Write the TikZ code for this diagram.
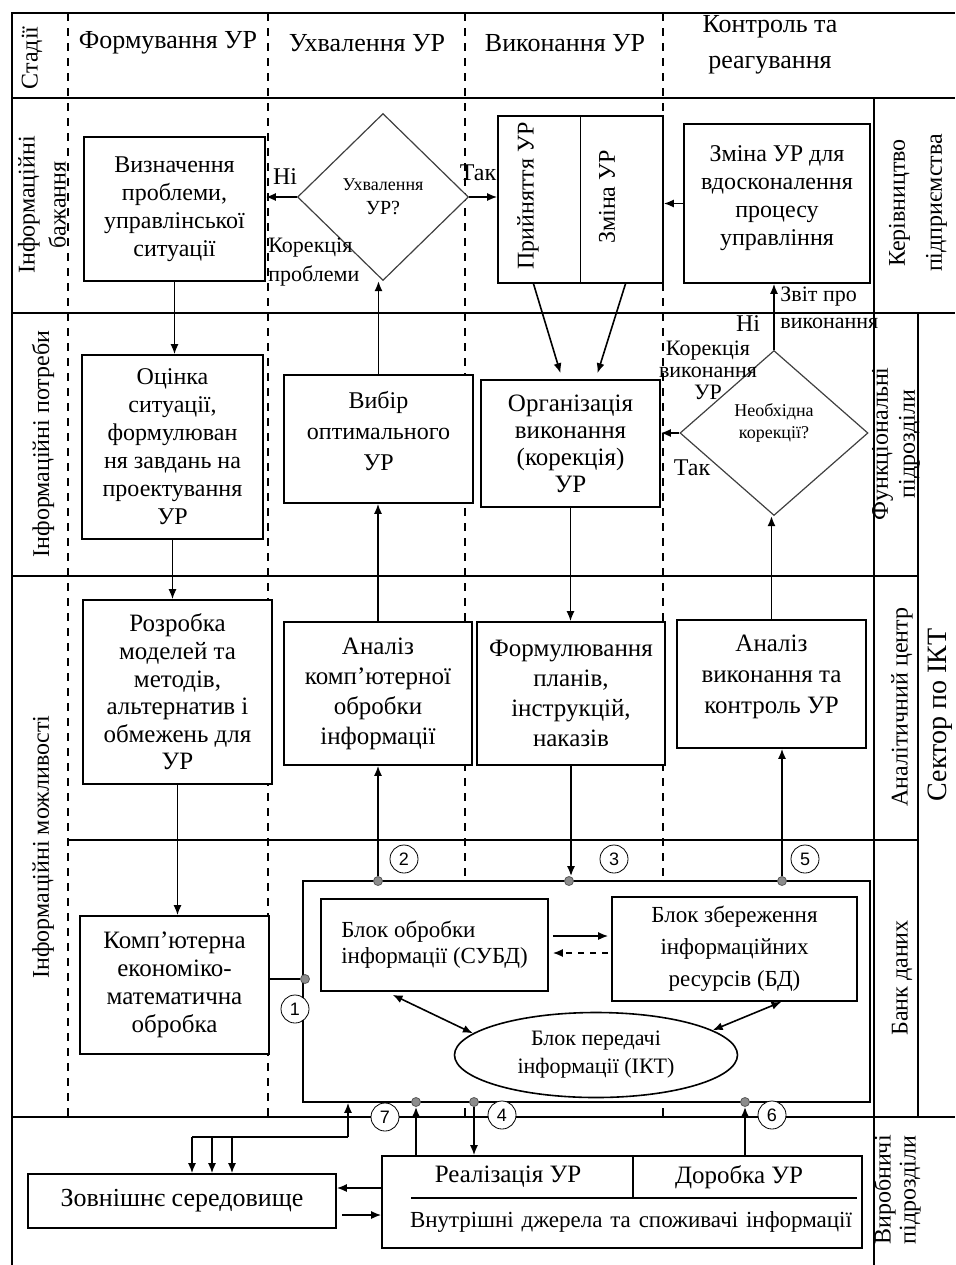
\documentclass[tikz,border=0pt]{standalone}
\usepackage{fontspec}
\setmainfont{Liberation Serif}
\setsansfont{Liberation Sans}
\usetikzlibrary{arrows.meta,shapes.geometric,calc}

\begin{document}
\begin{tikzpicture}[x=0.5pt,y=-0.5pt]

	% styles for the whole scheme
	\tikzset{
		box/.style={draw, fill=white, line width=0.8pt, align=center, inner sep=1pt,
			font=\rmfamily\fontsize{12}{14}\selectfont},
		diam/.style={diamond, draw=black!75, fill=white, line width=0.6pt, align=center, inner sep=0pt},
		arr/.style={line width=0.8pt, -{Latex[length=5pt,width=4pt]}},
		darr/.style={line width=0.8pt, {Latex[length=5pt,width=4pt]}-{Latex[length=5pt,width=4pt]}},
		frame/.style={line width=0.8pt},
		lane/.style={line width=0.8pt, dash pattern=on 4pt off 3.5pt},
		lbl/.style={inner sep=0pt, align=center, font=\rmfamily\fontsize{12}{14}\selectfont},
		dot/.style={circle, draw=black!65, fill=black!45, inner sep=0pt, minimum size=4.5pt},
		num/.style={circle, draw, fill=white, inner sep=0pt, minimum size=14pt,
			font=\sffamily\fontsize{9}{10}\selectfont}
	}
	\useasboundingbox (0,0) rectangle (955,1265);

	% dashed lanes of the stages
	\foreach \x in {68,268,465,663}
		\draw[lane] (\x,13) -- (\x,1117);

	% table lines
	\draw[frame] (12,1265) -- (12,13) -- (955,13);
	\draw[frame] (12,98) -- (955,98);
	\draw[frame] (12,313) -- (955,313);
	\draw[frame] (12,576) -- (918,576);
	\draw[frame] (68,840) -- (918,840);
	\draw[frame] (12,1117) -- (955,1117);
	\draw[frame] (874,98) -- (874,1265);
	\draw[frame] (918,313) -- (918,1117);

	% left labels
	\node[lbl, rotate=90] (stadii) at (32,58) {Стадії};
	\node[lbl, rotate=90, font=\rmfamily\fontsize{12}{15.5}\selectfont] (bazhannia) at (42,205) {Інформаційні\\бажання};
	\node[lbl, rotate=90] (potreby) at (43,444) {Інформаційні потреби};
	\node[lbl, rotate=90] (mozhlyv) at (43,847) {Інформаційні можливості};

	% stages
	\node[lbl, font=\rmfamily\fontsize{13}{18}\selectfont] (st1) at (168,43) {Формування УР};
	\node[lbl, font=\rmfamily\fontsize{13}{18}\selectfont] (st2) at (367,43) {Ухвалення УР};
	\node[lbl, font=\rmfamily\fontsize{13}{18}\selectfont] (st3) at (565,43) {Виконання УР};
	\node[lbl, font=\rmfamily\fontsize{13}{18}\selectfont] (st4) at (770,45) {Контроль та\\реагування};

	% right labels
	\node[lbl, rotate=90, font=\rmfamily\fontsize{12}{18.5}\selectfont] (kerivn) at (918,203) {Керівництво\\підприємства};
	\node[lbl, rotate=90, font=\rmfamily\fontsize{12}{13.5}\selectfont] (funkc) at (896,444) {Функціональні\\підрозділи};
	\node[lbl, rotate=90] (analit) at (902,707) {Аналітичний центр};
	\node[lbl, rotate=90, font=\rmfamily\fontsize{14}{16}\selectfont] (sektor) at (940,715) {Сектор по ІКТ};
	\node[lbl, rotate=90] (banklbl) at (902,978) {Банк даних};
	\node[lbl, rotate=90, font=\rmfamily\fontsize{12}{12.5}\selectfont] (vyrob) at (897,1190) {Виробничі\\підрозділи};

	% row 1
	\node[box, minimum width=90.5pt, minimum height=72pt] (vyzn) at (174.5,209) {Визначення\\проблеми,\\управлінської\\ситуації};
	\node[diam, minimum width=85.5pt, minimum height=83.5pt] (ukhv) at (383,197) {{\fontsize{9}{11}\selectfont Ухвалення}\\УР?};
	\node[box, minimum width=82.5pt, minimum height=83.5pt] (pryin) at (580.5,199.5) {};
	\draw[frame] (pryin.north) -- (pryin.south);
	\node[lbl, rotate=90] (pryintxt) at (528,196) {Прийняття УР};
	\node[lbl, rotate=90] (zmintxt) at (607,197) {Зміна УР};
	\node[box, minimum width=93pt, minimum height=79.5pt] (zmina) at (777,203.5) {Зміна УР для\\вдосконалення\\процесу\\управління\\[-6pt]\mbox{}};

	% row 2
	\node[box, minimum width=90.5pt, minimum height=92pt] (otsinka) at (172.5,447) {Оцінка\\ситуації,\\формулюван\\ня завдань на\\проектування\\УР};
	\node[box, minimum width=94.5pt, minimum height=64pt, font=\rmfamily\fontsize{12}{15.5}\selectfont] (vybir) at (378.5,439) {Вибір\\оптимального\\УР\\[-7pt]\mbox{}};
	\node[box, minimum width=89.5pt, minimum height=63.5pt, font=\rmfamily\fontsize{12.5}{13.5}\selectfont] (org) at (570.5,443.5) {Організація\\виконання\\(корекція)\\УР};
	\node[diam, minimum width=94pt, minimum height=82.5pt, font=\rmfamily\fontsize{9}{11}\selectfont] (neobkh) at (774,433) {Необхідна\\корекції?\\[1pt]\mbox{}};

	% row 3
	\node[box, minimum width=94.5pt, minimum height=92pt, font=\rmfamily\fontsize{12.5}{13.8}\selectfont] (rozrob) at (177.5,692) {Розробка\\моделей та\\методів,\\альтернатив і\\обмежень для\\УР};
	\node[box, minimum width=94pt, minimum height=71.5pt, font=\rmfamily\fontsize{12.5}{15}\selectfont] (analiz1) at (378,693.5) {Аналіз\\комп’ютерної\\обробки\\інформації};
	\node[box, minimum width=94pt, minimum height=71.5pt, font=\rmfamily\fontsize{12.5}{15}\selectfont] (formul) at (571,693.5) {Формулювання\\планів,\\інструкцій,\\наказів};
	\node[box, minimum width=94.5pt, minimum height=64pt, font=\rmfamily\fontsize{12.5}{15.5}\selectfont] (analiz2) at (771.5,684) {Аналіз\\виконання та\\контроль УР\\[-5.5pt]\mbox{}};

	% row 4, data bank
	\node[box, minimum width=94.5pt, minimum height=69pt, font=\rmfamily\fontsize{12.5}{14}\selectfont] (kompyut) at (174.5,985) {Комп’ютерна\\економіко-\\математична\\обробка};
	\node[box, minimum width=283.5pt, minimum height=110.5pt] (bank) at (586.5,991.5) {};
	\node[box, minimum width=113.5pt, minimum height=46pt, align=left, font=\rmfamily\fontsize{11.5}{13}\selectfont] (obrob) at (434.5,945) {Блок обробки\\інформації (СУБД)};
	\node[box, minimum width=122.5pt, minimum height=52pt, font=\rmfamily\fontsize{11.5}{16}\selectfont] (zberezh) at (734.5,949) {Блок збереження\\інформаційних\\ресурсів (БД)};
	\node[box, ellipse, minimum width=141.5pt, minimum height=42.5pt, inner sep=0pt, font=\rmfamily\fontsize{11}{14}\selectfont] (peredacha) at (596,1055) {Блок передачі\\інформації (ІКТ)};

	% row 5
	\node[box, minimum width=154pt, minimum height=27pt, font=\rmfamily\fontsize{13}{15}\selectfont] (zovn) at (182,1201) {Зовнішнє середовище};
	\node[box, minimum width=240pt, minimum height=46pt] (realiz) at (622,1202) {};
	\draw[frame] ($(realiz.north west)+(252,0)$) -- ($(realiz.north west)+(252,43)$);
	\draw[frame] ($(realiz.north west)+(30,43)$) -- ($(realiz.north east)+(-6,43)$);
	\node[lbl, font=\rmfamily\fontsize{12.5}{14}\selectfont] (realtxt) at (508,1177) {Реалізація УР};
	\node[lbl, font=\rmfamily\fontsize{12.5}{14}\selectfont] (dorobtxt) at (739,1177) {Доробка УР};
	\node[lbl, font=\rmfamily\fontsize{11.5}{14}\selectfont] (vnutr) at (631,1222) {\makebox[221pt][s]{Внутрішні джерела та споживачі інформації}};

	% connection points of the bank
	\node[dot] (d1) at (305,979) {};
	\node[dot] (d2) at (378,881) {};
	\node[dot] (d3) at (569,881) {};
	\node[dot] (d5) at (782,881) {};
	\node[dot] (d7) at (416,1102) {};
	\node[dot] (d4) at (474,1102) {};
	\node[dot] (d6) at (745,1102) {};
	\node[num] (n1) at (295,1009) {1};
	\node[num] (n2) at (404,859) {2};
	\node[num] (n3) at (614,859) {3};
	\node[num] (n4) at (502,1115) {4};
	\node[num] (n5) at (805,859) {5};
	\node[num] (n6) at (772,1115) {6};
	\node[num] (n7) at (385,1117) {7};

	% arrows, upper part
	\draw[arr] (ukhv.west) -- (ukhv.west -| vyzn.east);
	\draw[arr] (ukhv.east) -- (ukhv.east -| pryin.west);
	\draw[arr] (zmina.west) -- (zmina.west -| pryin.east);
	\draw[arr] ($(pryin.south)+(-47,0)$) -- ($(org.north)+(-10,-6)$);
	\draw[arr] ($(pryin.south)+(45,0)$) -- ($(org.north)+(27,-6)$);
	\draw[arr] (vybir.north) -- (vybir.north |- ukhv.south);
	\draw[arr] (neobkh.west) -- (neobkh.west -| org.east);
	\draw[arr] (neobkh.north) -- (neobkh.north |- zmina.south);
	\draw[arr] (vyzn.south) -- (vyzn.south |- otsinka.north);
	\draw[arr] (otsinka.south) -- (otsinka.south |- rozrob.north);
	\draw[arr] (analiz1.north) -- (analiz1.north |- vybir.south);
	\draw[arr] (org.south) -- (org.south |- formul.north);
	\draw[arr] (analiz2.north) -- (analiz2.north |- neobkh.south);
	\draw[arr] (rozrob.south) -- (rozrob.south |- kompyut.north);

	\node[lbl] (ni1) at (285,177) {Ні};
	\node[lbl] (tak1) at (478,173) {Так};
	\node[lbl, anchor=west, align=left, font=\rmfamily\fontsize{11}{14.5}\selectfont] (korprob) at (268,262) {Корекція\\проблеми};
	\node[lbl] (ni2) at (748,324) {Ні};
	\node[lbl, font=\rmfamily\fontsize{11}{11}\selectfont] (korvyk) at (708,370) {Корекція\\виконання\\УР};
	\node[lbl] (tak2) at (692,468) {Так};
	\node[lbl, anchor=west, align=left, font=\rmfamily\fontsize{11}{13.5}\selectfont] (zvit) at (780,308) {Звіт про\\виконання};

	% arrows of the bank
	\draw[frame] (kompyut.east |- d1) -- (d1.west);
	\draw[arr] (d2.north) -- (d2 |- analiz1.south);
	\draw[arr] (formul.south) -- (formul.south |- d3.north);
	\draw[arr] (d5.north) -- (d5 |- analiz2.south);
	\draw[arr] ($(obrob.east)+(4,-9)$) -- ($(zberezh.west |- obrob.east)+(-3,-9)$);
	\draw[arr, dashed] ($(zberezh.west |- obrob.east)+(-3,8)$) -- ($(obrob.east)+(4,8)$);
	\draw[darr] ($(obrob.south)+(-42,3)$) -- (peredacha.170);
	\draw[darr] (peredacha.12) -- ($(zberezh.south)+(47,0)$);

	% arrows, lower part
	\coordinate (br) at (348,1137);
	\draw[arr] (br) -- (br |- bank.south);
	\foreach \s/\n in {10/a,30/b,50/c} {
		\coordinate (z\n) at ($(zovn.north)+(\s,0)$);
		\draw[arr] (z\n |- br) -- (z\n);
	}
	\draw[frame] (br) -- (za |- br);
	\draw[arr] (d7 |- realiz.north) -- (d7.south);
	\draw[arr] (d4.south) -- (d4 |- realiz.north);
	\draw[arr] (d6 |- realiz.north) -- (d6.south);
	\draw[arr] ($(realiz.west)+(0,-14)$) -- ($(zovn.east)+(0,-13)$);
	\draw[arr] ($(zovn.east)+(5,14)$) -- ($(realiz.west)+(0,13)$);

\end{tikzpicture}
\end{document}
